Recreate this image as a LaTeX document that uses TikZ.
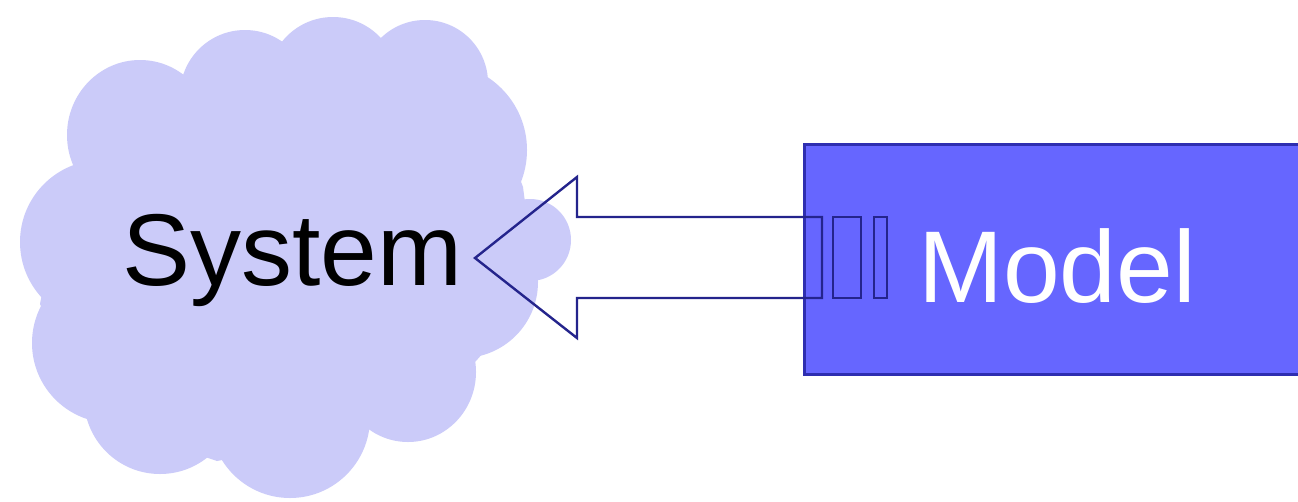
\documentclass[tikz,border=0pt]{standalone}
\usepackage{fontspec}
\setmainfont{Liberation Sans}
\definecolor{cloudfill}{HTML}{CBCBF9}
\definecolor{boxfill}{HTML}{6666FF}
\definecolor{boxline}{HTML}{2E2EB0}
\definecolor{arrowline}{HTML}{24248C}
\tikzset{
  lobe/.style={fill=cloudfill, draw=none},
  modelbox/.style={fill=boxfill, draw=boxline, line width=2.5pt},
  hollowarrow/.style={draw=arrowline, line width=2.4pt, line join=miter},
  bigtext/.style={font=\fontsize{102}{110}\selectfont, inner sep=0pt}
}
\begin{document}
\begin{tikzpicture}[x=1pt,y=-1pt]
\useasboundingbox (0,0) rectangle (1298,501);
\fill[white] (0,0) rectangle (1298,501);
% cloud built from lobes
\fill[cloudfill] (65,175) -- (187,72) -- (287,50) -- (377,40) -- (480,73) -- (523,187)
  -- (537,294) -- (480,351) -- (363,433) -- (217,461) -- (90,418) -- (40,304) -- cycle;
\fill[cloudfill] (290,255) ellipse [x radius=230pt, y radius=180pt];
\fill[lobe] (140,135) ellipse [x radius=73pt, y radius=75pt];
\fill[lobe] (245,95) circle [radius=65pt];
\fill[lobe] (333,82) circle [radius=65pt];
\fill[lobe] (425,83) circle [radius=63pt];
\fill[lobe] (440,150) circle [radius=87pt];
\fill[lobe] (530,240) circle [radius=41pt];
\fill[lobe] (462,282) circle [radius=76pt];
\fill[lobe] (408,372) ellipse [x radius=68pt, y radius=70pt];
\fill[lobe] (290,418) circle [radius=80pt];
\fill[lobe] (160,398) circle [radius=76pt];
\fill[lobe] (112,343) circle [radius=80pt];
\fill[lobe] (102,242) circle [radius=82pt];
\node[bigtext, anchor=base west] (system) at (122,285) {System};
% model box
\node[modelbox, anchor=north west, minimum width=520pt, minimum height=230pt, inner sep=0pt] (model) at (803,143) {};
\node[bigtext, anchor=base west, text=white] (modeltext) at (918,302) {Model};
% striped hollow arrow
\coordinate (tip) at (475,258);
\draw[hollowarrow] (tip) -- (577,177) -- (577,217) -- (822,217) -- (822,298)
  -- (577,298) -- (577,338) -- cycle;
\draw[hollowarrow] (833,217) rectangle (861,298);
\draw[hollowarrow] (874,217) rectangle (887,298);
\end{tikzpicture}
\end{document}
